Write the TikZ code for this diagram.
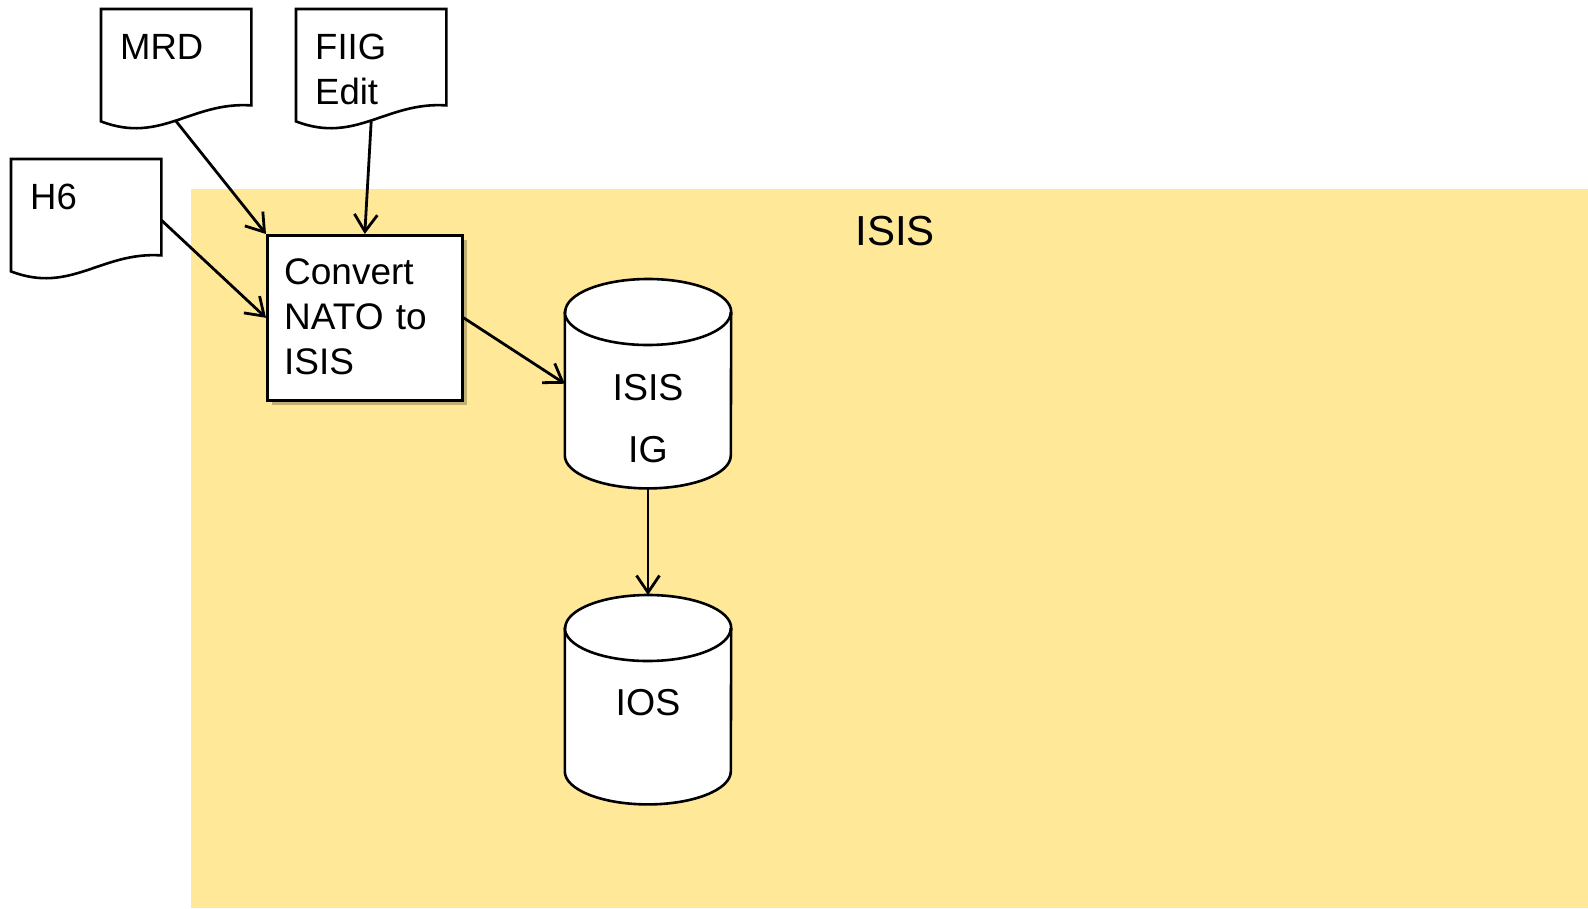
\documentclass[tikz,border=0pt]{standalone}
\usepackage{fontspec}
\setmainfont{Liberation Sans}
\usetikzlibrary{arrows.meta,calc,shadows}
\definecolor{isisyellow}{RGB}{255,233,153}
\begin{document}
\begin{tikzpicture}[x=1pt,y=1pt,
  docbox/.style={draw=none, minimum width=150pt, minimum height=112pt, inner sep=0pt, anchor=north west},
  docline/.style={draw=black, line width=2.6pt, fill=white, line join=miter},
  doctext/.style={font=\fontsize{36.5}{45}\selectfont, inner sep=0pt, anchor=base west, align=left, text width=128pt},
  procbox/.style={draw=black, line width=2.6pt, fill=white, minimum width=195pt, minimum height=165pt, inner sep=0pt, anchor=north west,
     drop shadow={shadow xshift=5pt, shadow yshift=-5pt, fill=black!70!isisyellow, opacity=0.35}},
  proctext/.style={font=\fontsize{37}{45}\selectfont, inner sep=0pt, anchor=base west, align=left, text width=172pt},
  cylbox/.style={draw=none, minimum width=166pt, minimum height=209pt, inner sep=0pt, anchor=north},
  cylline/.style={draw=black, line width=2.6pt, fill=white},
  cyltext/.style={font=\fontsize{37.5}{62}\selectfont, inner sep=0pt, anchor=base, align=center},
  regiontext/.style={font=\fontsize{42}{49}\selectfont, inner sep=0pt, anchor=base},
  flow/.style={draw=black, line width=2.8pt, -{Straight Barb[length=17pt,width=23pt,line width=2.8pt]}}
]
\useasboundingbox (0,0) rectangle (1588,-908);
\fill[white] (0,0) rectangle (1588,-908);

% ISIS region
\fill[isisyellow] (191,-189) rectangle (1588,-908);
\node[regiontext] (isislabel) at (895,-245) {ISIS};

% documents
\foreach \name/\x/\y in {mrd/101/-9, fiig/296/-9, hsix/11/-159}{
  \node[docbox] (\name) at (\x,\y) {};
  \draw[docline] (\name.north west) -- (\name.north east) -- ([yshift=16pt]\name.south east)
     .. controls ($(\name.south west)+(90,20)$) and ($(\name.south west)+(60,-23)$) .. (\name.south west) -- cycle;
}
\node[doctext] (mrdt) at ($(mrd.north west)+(19,-50)$) {MRD};
\node[doctext] (fiigt) at ($(fiig.north west)+(19,-50)$) {FIIG\\Edit};
\node[doctext] (hsixt) at ($(hsix.north west)+(19,-50)$) {H6};

% process
\node[procbox] (conv) at (266,-234) {};
\node[proctext] (convt) at ($(conv.north west)+(18,-50)$) {Convert\\NATO to\\ISIS};

% cylinders
\foreach \name/\y in {isisig/-279, ios/-595}{
  \node[cylbox] (\name) at (648,\y) {};
  \draw[cylline] ([yshift=-33pt]\name.north west) -- ([yshift=33pt]\name.south west)
     arc[start angle=180, end angle=360, x radius=83, y radius=33]
     -- ([yshift=-33pt]\name.north east)
     arc[start angle=0, end angle=180, x radius=83, y radius=33] -- cycle;
  \draw[line width=2.6pt] ([yshift=-33pt]\name.north west)
     arc[start angle=180, end angle=360, x radius=83, y radius=33];
}
\node[cyltext] (isisigt) at (648,-462) {ISIS\\IG};
\node[cyltext] (iost) at (648,-715) {IOS};

% connectors
\draw[flow] (mrd.south) -- (conv.north west);
\draw[flow] (fiig.south) -- (conv.north);
\draw[flow] ([yshift=-5pt]hsix.east) -- (conv.west);
\draw[flow] (conv.east) -- (isisig.west);
\draw[flow] (isisig.south) -- (ios.north);
\end{tikzpicture}
\end{document}
